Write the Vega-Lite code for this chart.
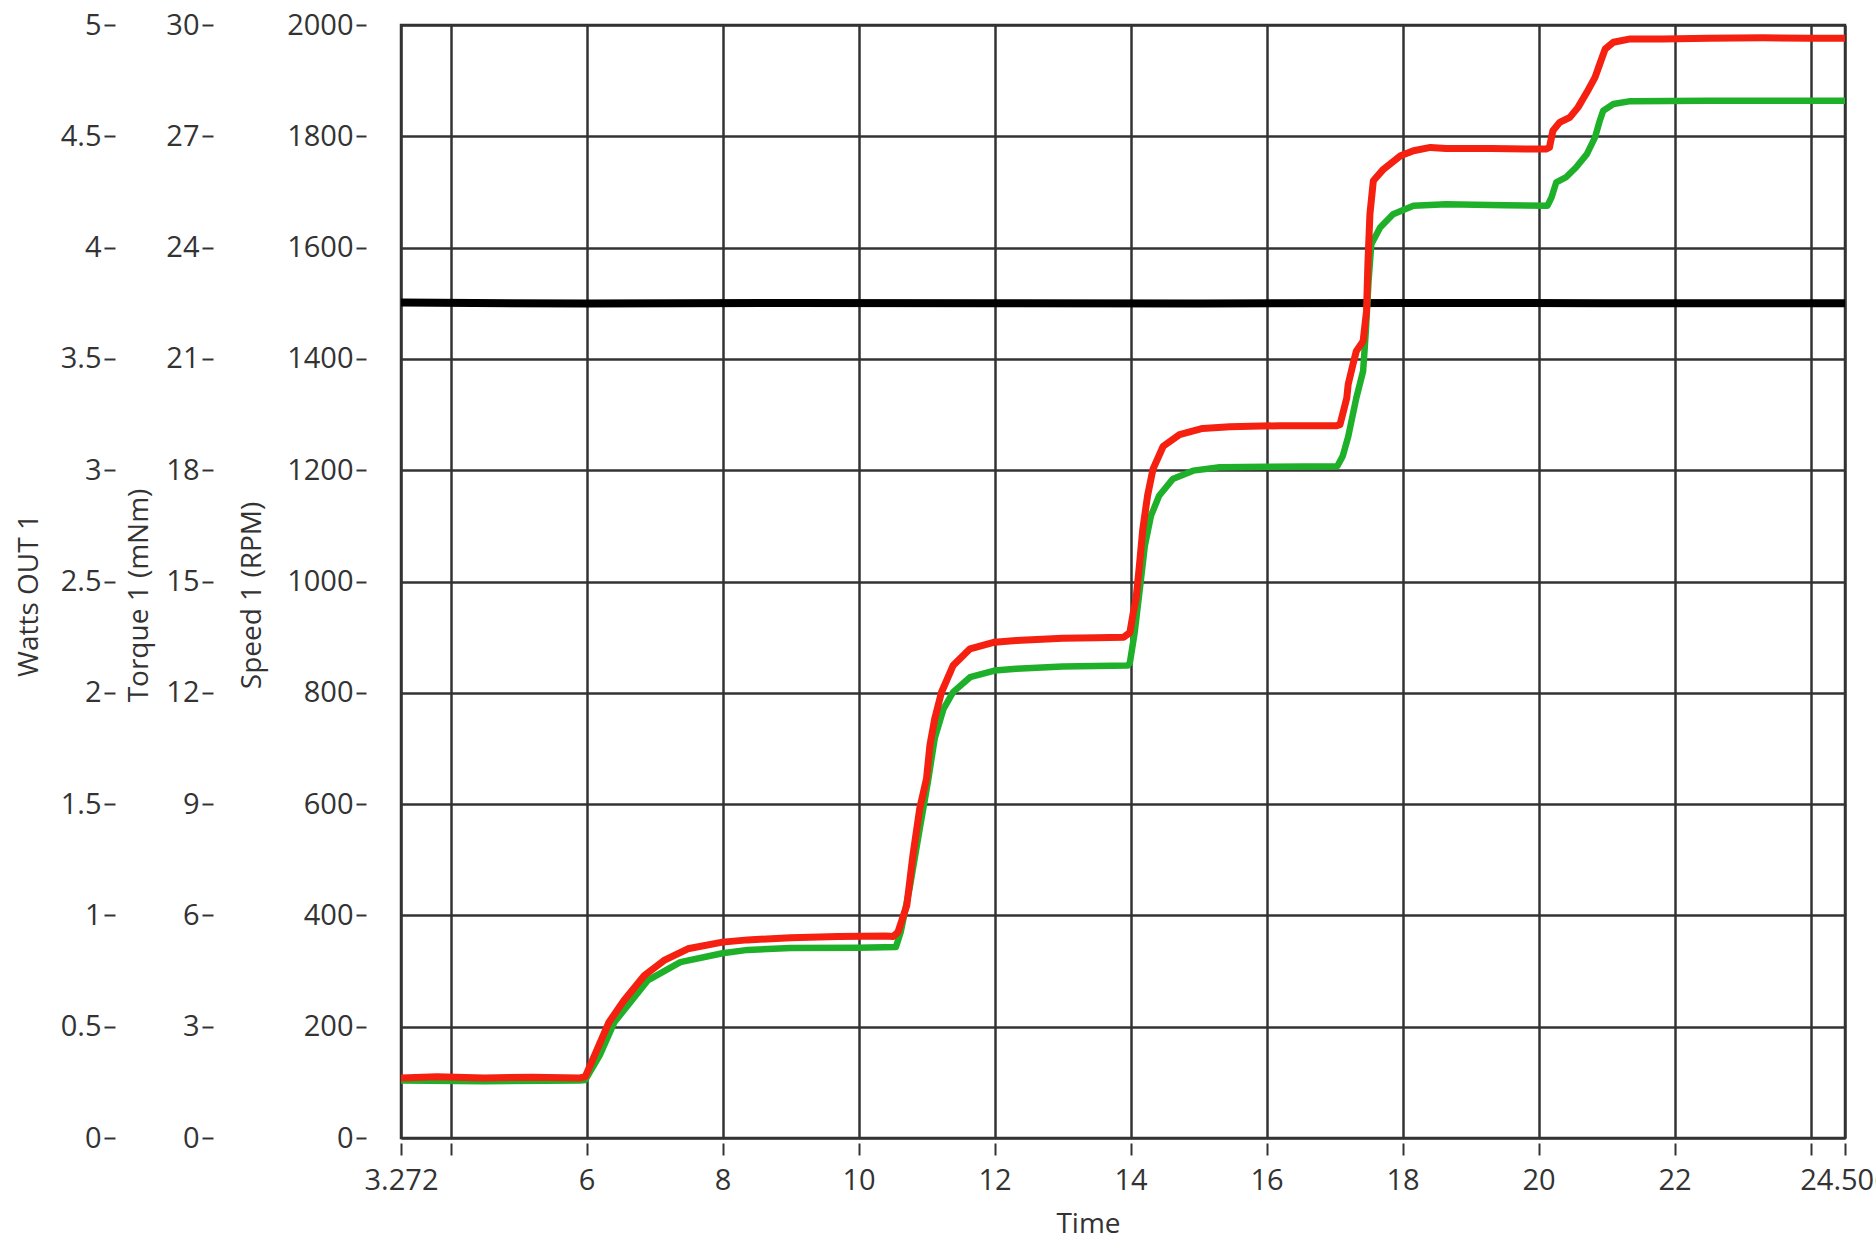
{
  "$schema": "https://vega.github.io/schema/vega-lite/v6.json",
  "width": 1444,
  "height": 1113,
  "autosize": {"type": "none"},
  "padding": {"left": 401, "top": 25, "right": 31, "bottom": 122},
  "background": "white",
  "config": {
    "view": {"stroke": "#333333", "strokeWidth": 2.5},
    "axis": {
      "labelFont": "Open Sans",
      "titleFont": "Open Sans",
      "labelColor": "#333333",
      "titleColor": "#333333",
      "tickColor": "#333333",
      "tickWidth": 2,
      "labelFontSize": 29,
      "titleFontSize": 28,
      "titleFontWeight": "normal",
      "domain": false,
      "gridColor": "#333333",
      "gridWidth": 2.5,
      "gridOpacity": 1
    }
  },
  "datasets": {
    "torque": [
      {"t": 3.272, "v": 22.52}, {"t": 6, "v": 22.49}, {"t": 9, "v": 22.51}, {"t": 12, "v": 22.5},
      {"t": 15, "v": 22.49}, {"t": 18, "v": 22.51}, {"t": 21, "v": 22.5}, {"t": 24.506, "v": 22.5}
    ],
    "watts": [
      {"t": 3.272, "v": 0.258}, {"t": 4.5, "v": 0.255}, {"t": 5.9, "v": 0.258}, {"t": 5.98, "v": 0.26},
      {"t": 6.2, "v": 0.375}, {"t": 6.41, "v": 0.52}, {"t": 6.9, "v": 0.708}, {"t": 7.38, "v": 0.79},
      {"t": 8.0, "v": 0.83}, {"t": 8.37, "v": 0.845}, {"t": 9.0, "v": 0.853}, {"t": 10.0, "v": 0.855},
      {"t": 10.55, "v": 0.858}, {"t": 10.62, "v": 0.925}, {"t": 10.75, "v": 1.12}, {"t": 10.9, "v": 1.39},
      {"t": 11.02, "v": 1.6}, {"t": 11.12, "v": 1.795}, {"t": 11.25, "v": 1.928}, {"t": 11.39, "v": 2.003},
      {"t": 11.64, "v": 2.07}, {"t": 12.0, "v": 2.1}, {"t": 12.32, "v": 2.108}, {"t": 13.0, "v": 2.118},
      {"t": 13.96, "v": 2.123}, {"t": 13.99, "v": 2.135}, {"t": 14.06, "v": 2.27}, {"t": 14.13, "v": 2.45},
      {"t": 14.21, "v": 2.66}, {"t": 14.3, "v": 2.795}, {"t": 14.42, "v": 2.885}, {"t": 14.62, "v": 2.96},
      {"t": 14.92, "v": 2.998}, {"t": 15.31, "v": 3.013}, {"t": 16.0, "v": 3.015}, {"t": 17.04, "v": 3.018},
      {"t": 17.12, "v": 3.063}, {"t": 17.2, "v": 3.15}, {"t": 17.32, "v": 3.325}, {"t": 17.42, "v": 3.445},
      {"t": 17.46, "v": 3.625}, {"t": 17.5, "v": 3.85}, {"t": 17.54, "v": 4.015}, {"t": 17.67, "v": 4.09},
      {"t": 17.86, "v": 4.15}, {"t": 18.16, "v": 4.188}, {"t": 18.64, "v": 4.195}, {"t": 19.5, "v": 4.19},
      {"t": 20.13, "v": 4.188}, {"t": 20.19, "v": 4.225}, {"t": 20.26, "v": 4.293}, {"t": 20.4, "v": 4.315},
      {"t": 20.55, "v": 4.36}, {"t": 20.71, "v": 4.42}, {"t": 20.83, "v": 4.495}, {"t": 20.9, "v": 4.57},
      {"t": 20.95, "v": 4.615}, {"t": 21.1, "v": 4.645}, {"t": 21.35, "v": 4.658}, {"t": 22.5, "v": 4.66},
      {"t": 24.506, "v": 4.66}
    ],
    "speed": [
      {"t": 3.272, "v": 108}, {"t": 3.8, "v": 110}, {"t": 4.5, "v": 108}, {"t": 5.2, "v": 109},
      {"t": 5.9, "v": 108}, {"t": 5.98, "v": 110}, {"t": 6.16, "v": 160}, {"t": 6.33, "v": 208},
      {"t": 6.55, "v": 247}, {"t": 6.85, "v": 292}, {"t": 7.14, "v": 319}, {"t": 7.49, "v": 340},
      {"t": 8.0, "v": 352}, {"t": 8.37, "v": 356}, {"t": 9.0, "v": 360}, {"t": 9.7, "v": 362},
      {"t": 10.4, "v": 363}, {"t": 10.51, "v": 362}, {"t": 10.58, "v": 370}, {"t": 10.71, "v": 418},
      {"t": 10.8, "v": 508}, {"t": 10.9, "v": 592}, {"t": 11.0, "v": 646}, {"t": 11.05, "v": 706},
      {"t": 11.12, "v": 753}, {"t": 11.22, "v": 801}, {"t": 11.39, "v": 849}, {"t": 11.64, "v": 879},
      {"t": 12.0, "v": 891}, {"t": 12.32, "v": 894}, {"t": 13.0, "v": 898}, {"t": 13.5, "v": 899},
      {"t": 13.9, "v": 900}, {"t": 13.99, "v": 908}, {"t": 14.04, "v": 944}, {"t": 14.08, "v": 968},
      {"t": 14.13, "v": 1028}, {"t": 14.18, "v": 1094}, {"t": 14.25, "v": 1154}, {"t": 14.33, "v": 1202},
      {"t": 14.48, "v": 1243}, {"t": 14.72, "v": 1264}, {"t": 15.06, "v": 1275}, {"t": 15.46, "v": 1278},
      {"t": 16.2, "v": 1280}, {"t": 16.8, "v": 1280}, {"t": 17.03, "v": 1280}, {"t": 17.08, "v": 1282},
      {"t": 17.18, "v": 1330}, {"t": 17.2, "v": 1354}, {"t": 17.27, "v": 1390}, {"t": 17.32, "v": 1414},
      {"t": 17.42, "v": 1432}, {"t": 17.47, "v": 1486}, {"t": 17.49, "v": 1570}, {"t": 17.52, "v": 1660},
      {"t": 17.57, "v": 1720}, {"t": 17.72, "v": 1741}, {"t": 17.97, "v": 1765}, {"t": 18.16, "v": 1774},
      {"t": 18.41, "v": 1780}, {"t": 18.64, "v": 1778}, {"t": 19.3, "v": 1778}, {"t": 19.9, "v": 1777},
      {"t": 20.11, "v": 1777}, {"t": 20.16, "v": 1780}, {"t": 20.21, "v": 1810}, {"t": 20.31, "v": 1825},
      {"t": 20.46, "v": 1834}, {"t": 20.58, "v": 1852}, {"t": 20.71, "v": 1879}, {"t": 20.83, "v": 1906},
      {"t": 20.9, "v": 1930}, {"t": 20.98, "v": 1957}, {"t": 21.1, "v": 1969}, {"t": 21.35, "v": 1975},
      {"t": 21.82, "v": 1975}, {"t": 22.5, "v": 1976}, {"t": 23.3, "v": 1977}, {"t": 24.0, "v": 1976},
      {"t": 24.506, "v": 1976}
    ]
  },
  "encoding": {
    "x": {
      "field": "t",
      "type": "quantitative",
      "scale": {"domain": [3.272, 24.506], "nice": false, "zero": false},
      "axis": {
        "values": [3.272, 4, 6, 8, 10, 12, 14, 16, 18, 20, 22, 24, 24.506],
        "labelExpr": "datum.value == 4 || datum.value == 24 ? '' : format(datum.value, '~g')",
        "labelOverlap": false,
        "labelFlush": false,
        "offset": 5,
        "tickSize": 12,
        "labelPadding": 11,
        "grid": true,
        "title": "Time",
        "titleX": 687,
        "titleY": 81,
        "titleBaseline": "middle"
      }
    }
  },
  "layer": [
    {
      "data": {"name": "torque"},
      "mark": {"type": "line", "color": "#000000", "strokeWidth": 8, "strokeJoin": "round"},
      "encoding": {
        "y": {
          "field": "v",
          "type": "quantitative",
          "scale": {"domain": [0, 30], "nice": false},
          "axis": {
            "orient": "left",
            "offset": 188,
            "tickSize": 11,
            "labelPadding": 3,
            "values": [0, 3, 6, 9, 12, 15, 18, 21, 24, 27, 30],
            "format": "d",
            "grid": false,
            "title": "Torque 1 (mNm)",
            "titleX": -74,
            "titleY": 570,
            "titleAngle": -90,
            "titleBaseline": "middle"
          }
        }
      }
    },
    {
      "data": {"name": "watts"},
      "mark": {"type": "line", "color": "#1fb02a", "strokeWidth": 6.5, "strokeJoin": "round"},
      "encoding": {
        "y": {
          "field": "v",
          "type": "quantitative",
          "scale": {"domain": [0, 5], "nice": false},
          "axis": {
            "orient": "left",
            "offset": 286,
            "tickSize": 11,
            "labelPadding": 3,
            "values": [0, 0.5, 1, 1.5, 2, 2.5, 3, 3.5, 4, 4.5, 5],
            "format": "~g",
            "grid": false,
            "title": "Watts OUT 1",
            "titleX": -86,
            "titleY": 570,
            "titleAngle": -90,
            "titleBaseline": "middle"
          }
        }
      }
    },
    {
      "data": {"name": "speed"},
      "mark": {"type": "line", "color": "#f5200f", "strokeWidth": 7, "strokeJoin": "round"},
      "encoding": {
        "y": {
          "field": "v",
          "type": "quantitative",
          "scale": {"domain": [0, 2000], "nice": false},
          "axis": {
            "orient": "left",
            "offset": 35,
            "tickSize": 10,
            "labelPadding": 3,
            "values": [0, 200, 400, 600, 800, 1000, 1200, 1400, 1600, 1800, 2000],
            "format": "d",
            "grid": true,
            "title": "Speed 1 (RPM)",
            "titleX": -114,
            "titleY": 570,
            "titleAngle": -90,
            "titleBaseline": "middle"
          }
        }
      }
    }
  ],
  "resolve": {"scale": {"y": "independent"}, "axis": {"y": "independent"}}
}
